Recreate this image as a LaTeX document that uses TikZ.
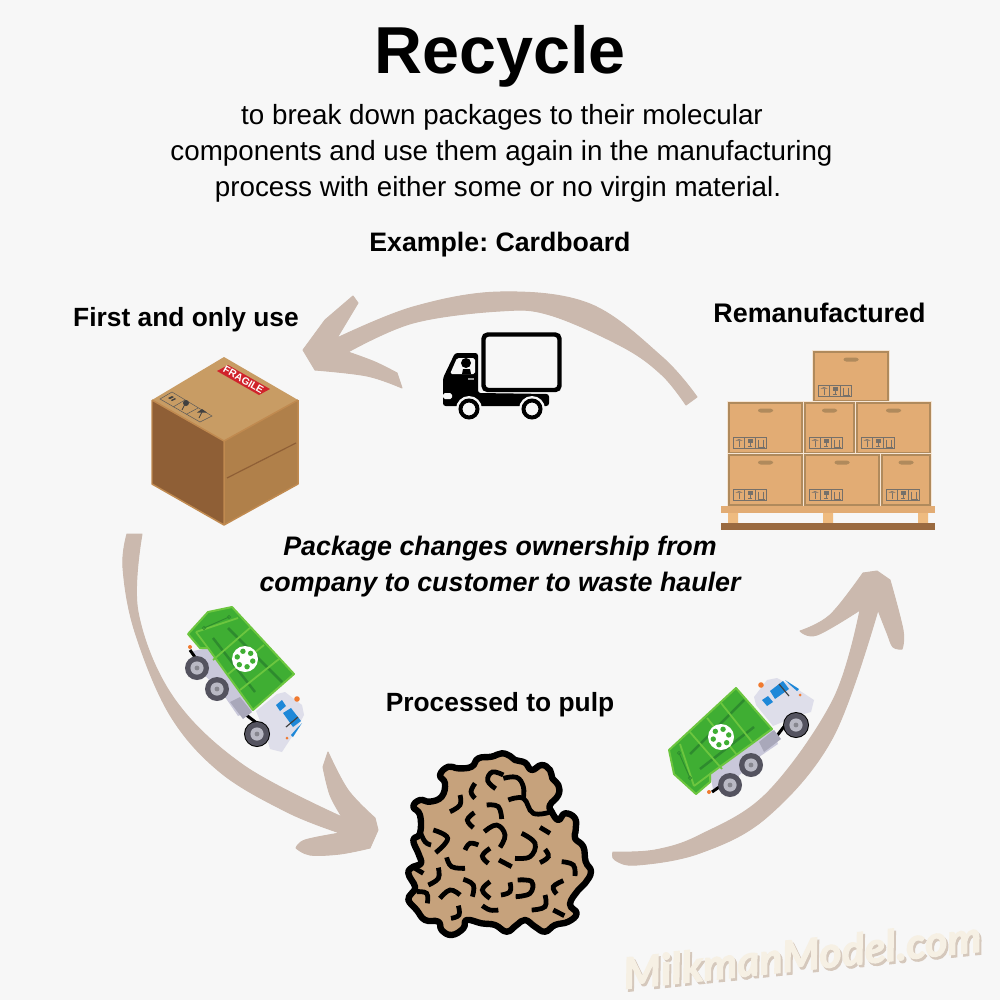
\documentclass[tikz,border=0pt]{standalone}
\usepackage{fontspec}
\setmainfont{Liberation Sans}
\newfontfamily\wmfont[BoldItalicFeatures={FakeBold=2.5}]{Lato}
\usetikzlibrary{calc}
\frenchspacing
\definecolor{bgc}{HTML}{F7F7F7}
\definecolor{arrowc}{HTML}{CBB9AE}
\definecolor{cbtop}{HTML}{C89C64}
\definecolor{cbleft}{HTML}{8F5F36}
\definecolor{cbright}{HTML}{B0804A}
\definecolor{cbedge}{HTML}{C08A50}
\definecolor{crate}{HTML}{E2AC74}
\definecolor{crateedge}{HTML}{B08A5C}
\definecolor{glyph}{HTML}{75706A}
\definecolor{legc}{HTML}{EFBB7F}
\definecolor{palbase}{HTML}{9A6A40}
\definecolor{pulp}{HTML}{C6A27C}
\definecolor{bing}{HTML}{3FAE33}
\definecolor{binl}{HTML}{6CC63F}
\definecolor{bind}{HTML}{2E8B2E}
\definecolor{cabc}{HTML}{DEDEEA}
\definecolor{chas}{HTML}{C9C8DA}
\definecolor{tankc}{HTML}{A9A8BA}
\definecolor{tyre}{HTML}{54535F}
\definecolor{hubc}{HTML}{B9B9C4}
\definecolor{bluew}{HTML}{1E88D8}
\definecolor{lamp}{HTML}{F07A30}
\definecolor{wmc}{HTML}{F6F0E4}
\definecolor{wms}{HTML}{D5C8BC}
\definecolor{fragred}{HTML}{D0232B}
\tikzset{
  px/.style={line width=#1*0.5669pt},
  headline/.style={font=\bfseries\fontsize{37.8pt}{40pt}\selectfont,text=black,inner sep=0pt},
  bodyline/.style={font=\fontsize{15.8pt}{20.4pt}\selectfont,text=black,inner sep=0pt,align=center},
  labelline/.style={font=\bfseries\fontsize{15pt}{20.4pt}\selectfont,text=black,inner sep=0pt,align=center},
  italline/.style={font=\bfseries\itshape\fontsize{15.25pt}{20.4pt}\selectfont,text=black,inner sep=0pt,align=center},
  arrowshape/.style={fill=arrowc,draw=arrowc,px=1,line join=round},
  pulpdash/.style={draw=black,px=4.8,line cap=butt},
  wmark/.style={font=\wmfont\bfseries\itshape\fontsize{24.5pt}{30pt}\selectfont,rotate=6,inner sep=0pt},
}
\newcommand{\cellglyphs}[2]{%
  \begin{scope}[shift={(#1,#2)}]
    \draw[draw=glyph,px=.7] (0,0) rectangle (33,10.5) (11,0)--(11,10.5) (22,0)--(22,10.5);
    \fill[glyph] (2,3) -- (5.5,1.6) -- (9,3) -- cycle;
    \draw[glyph,px=.7] (5.5,3) -- (5.5,9);
    \fill[glyph] (14,1.5) rectangle (19,5.5);
    \draw[glyph,px=.8] (16.5,5.5) -- (16.5,9) (14.5,9.3) -- (18.5,9.3);
    \draw[glyph,px=.8] (25,2) -- (25,9) (29.5,2) -- (29.5,9) (24,9.5) -- (31,9.5);
  \end{scope}}
\newcommand{\crate}[4]{%
  \fill[white!70!crate] (#1-.6,#2-.6) rectangle (#3+.6,#4+.6);
  \draw[fill=crate,draw=crateedge,px=2.6] (#1+1,#2+1) rectangle (#3-1,#4-1);
  \fill[crateedge,rounded corners=1.5] ({(#1+#3)/2-7.5},#2+6.5) rectangle ({(#1+#3)/2+7.5},#2+10.5);
  \cellglyphs{#1+5.5}{#4-16.5}}
\newcommand{\twheel}[3]{%
  \fill[tyre] (#1,#2) circle[radius=#3];
  \fill[hubc] (#1,#2) circle[radius=#3*.55];
  \fill[tyre!70!white] (#1,#2) circle[radius=#3*.2];}
\newcommand{\greentruck}{%
  % chassis
  \fill[chas] (193,651) -- (208,648) -- (253,710) -- (238,716) -- (225,697) -- (200,670) -- cycle;
  \draw[black,px=3] (190,650) -- (197,660) (245,714) -- (258,724);
  \fill[lamp] (190,647) circle[radius=2];
  \fill[tankc] (230,702) -- (240,697) -- (252,712) -- (243,719) -- cycle;
  \twheel{197}{668}{12}
  \twheel{217}{689}{12}
  % bin
  \draw[fill=bing,draw=binl,px=2,line join=round] (188,634) -- (208,612) -- (232,607) -- (294,674) -- (253,710) -- (208,648) -- (200,648) -- cycle;
  \draw[bind,px=2.5] (213,638) -- (255,692) (228,628) -- (282,682);
  \draw[binl,px=1.8] (196,632) -- (238,618) (196,632) -- (208,648) (213,660) -- (251,627) (227,675) -- (264,645) (240,690) -- (279,659);
  \draw[bind,px=.9] (204,628) -- (229,617);
  \draw[bind,px=.7] (204,628) circle[radius=1.6] (229,617) circle[radius=1.6];
  \fill[white] (245,659) circle[radius=13];
  \foreach \a in {0,60,...,300}{\fill[bing] ($(245,659)+(\a+15:8)$) circle[radius=2.7];}
  % cab
  \fill[cabc] (256,711) -- (277,694) -- (285,692) -- (302,705) -- (304,715) -- (295,732) -- (282,752) -- (270,749) -- (266,735) -- cycle;
  \fill[black] (257,734) circle[radius=13];
  \twheel{257}{734}{12}
  \fill[bluew] (283,713) -- (291,708) -- (301,721) -- (293,727) -- cycle;
  \fill[bluew] (276,705) -- (282,700) -- (286,706) -- (280,711) -- cycle;
  \fill[bluew] (298,727) -- (302,723) -- (293,737) -- (291,735) -- cycle;
  \draw[black!75,px=1.2] (286,727) -- (298,717);
  \fill[lamp] (297,699) circle[radius=2.8];
  \fill[lamp] (287,738) circle[radius=1.5];
}
\newcommand{\pd}[1]{\draw[pulpdash] plot[smooth,tension=.7] coordinates {#1};}
\begin{document}
\begin{tikzpicture}[x=0.02cm,y=-0.02cm]
\fill[bgc] (0,0) rectangle (1000,1000);
\useasboundingbox (0,0) rectangle (1000,1000);

% texts
\node[headline] (title) at (500,56) {Recycle};
\node[bodyline] (sub1) at (502,117) {to break down packages to their molecular};
\node[bodyline] (sub2) at (501.5,153) {components and use them again in the manufacturing};
\node[bodyline] (sub3) at (498,189) {process with either some or no virgin material.};
\node[labelline,font=\bfseries\fontsize{15.2pt}{20pt}\selectfont] (example) at (500,245) {Example: Cardboard};
\node[labelline] (firstuse) at (186,320) {First and only use};
\node[labelline,font=\bfseries\fontsize{15.3pt}{20pt}\selectfont] (remanu) at (819.5,313) {Remanufactured};
\node[labelline] (pulplabel) at (500,705) {Processed to pulp};
\node[italline] (own1) at (500,549) {Package changes ownership from};
\node[italline] (own2) at (500,585) {company to customer to waste hauler};

% named arrow ends
\coordinate (topstart) at (697,397);
\coordinate (toptip) at (303,350);
\coordinate (leftstart) at (127,534);
\coordinate (lefttip) at (378,830);
\coordinate (rightstart) at (613,852);
\coordinate (righttip) at (877,571);

% top arrow
\path[arrowshape] plot[smooth,tension=.6] coordinates {(topstart) (662,357) (590,304) (500,292) (413,307) (337,338)}
  -- (358,303) -- (353,296) -- (325,320)
  -- (toptip) -- (315,370)
  -- plot[smooth,tension=.6] coordinates {(315,370) (367,376) (402,388)}
  -- (397,373)
  -- plot[smooth,tension=.6] coordinates {(397,373) (375,362) (348,352)}
  -- plot[smooth,tension=.6] coordinates {(348,352) (413,323) (500,311) (550,315) (623,347) (662,375) (686,405)} -- cycle;

% left arrow
\path[arrowshape] plot[smooth,tension=.6] coordinates {(leftstart) (123,568) (135,632) (170,715) (220,772) (287,812) (340,833)}
  -- plot[smooth,tension=.6] coordinates {(340,833) (305,840) (296,848)}
  -- plot[smooth,tension=.6] coordinates {(296,848) (310,855) (340,854) (370,848)}
  -- (lefttip) -- (375,818)
  -- plot[smooth,tension=.6] coordinates {(375,818) (348,790) (328,752)}
  -- (323,767)
  -- plot[smooth,tension=.6] coordinates {(323,767) (330,795) (342,817)}
  -- plot[smooth,tension=.6] coordinates {(342,817) (243,765) (173,697) (138,612) (142,534)} -- cycle;

% right arrow
\path[arrowshape] plot[smooth,tension=.6] coordinates {(rightstart) (615,860) (637,865) (700,853) (767,817) (833,737) (878,610)}
  -- plot[smooth,tension=.6] coordinates {(878,610) (887,633) (893,647) (902,649)}
  -- plot[smooth,tension=.6] coordinates {(902,649) (903,630) (890,580)}
  -- (righttip) -- (863,573)
  -- plot[smooth,tension=.6] coordinates {(863,573) (830,615) (800,631)}
  -- plot[smooth,tension=.6] coordinates {(800,631) (817,635) (860,610)}
  -- plot[smooth,tension=.6] coordinates {(860,610) (833,700) (767,793) (700,835) (655,850) (613,852)} -- cycle;

% cardboard box
\fill[cbtop] (224,357) -- (298,400) -- (224,441) -- (152,400) -- cycle;
\fill[cbleft] (152,400) -- (224,441) -- (224,525) -- (152,484) -- cycle;
\fill[cbright] (224,441) -- (298,400) -- (298,484) -- (224,525) -- cycle;
\draw[cbedge,px=1.5,line join=round] (152,400) -- (224,441) -- (298,400) (224,441) -- (224,525) (152,400) -- (152,484) -- (224,525) -- (298,484) -- (298,400);
\draw[cbleft,px=1.2] (227,478) -- (296,443);
\fill[fragred] (217,371) -- (228,365) -- (270,389) -- (259,395) -- cycle;
\node[text=white,font=\bfseries\fontsize{5.8pt}{6pt}\selectfont,rotate=-30,inner sep=0pt] (fragile) at (243.5,380) {FRAGILE};
\draw[black!65,px=.5] (160,399) -- (172,392) -- (212,416) -- (200,422) -- cycle (173,407) -- (185,400) (186,414.5) -- (198,408);
\fill[black!75] (168,398) -- (172,396) -- (174,397) -- (170,399) -- cycle (171,400) -- (175,398) -- (176,399) -- (172,401) -- cycle;
\fill[black!75] (186,403) circle[radius=3];
\draw[black!75,px=.8] (185,404) -- (182,410);
\fill[black!75] (197,412.5) -- (202,409) -- (207,412.5) -- cycle;
\draw[black!75,px=.8] (202,412) -- (199,418);

% crates
\crate{813}{351}{889}{402}
\crate{728}{402}{803}{454}
\crate{804}{402}{855}{454}
\crate{856}{402}{931}{454}
\crate{728}{454}{803}{506}
\crate{804}{454}{880}{506}
\crate{881}{454}{931}{506}
\fill[crate] (721,506) rectangle (935,513);
\fill[legc] (728,513) rectangle (738,523) (823,513) rectangle (833,523) (918,513) rectangle (928,523);
\fill[palbase] (721,523) rectangle (935,530);

% black delivery truck
\draw[black,px=4.5,fill=bgc,rounded corners=2.5] (483.5,334.5) rectangle (559.5,390);
\fill[black,rounded corners=1.5] (455,353) -- (478,353) -- (478,393) -- (549,394) -- (549,406) -- (443,406) -- (443,378) -- cycle;
\fill[bgc,rounded corners=1] (450,374) -- (457,358) -- (475,358) -- (475,374) -- cycle;
\fill[black] (466,363) circle[radius=5];
\fill[black] (462,374) -- (463,369) -- (470,369) -- (471,374) -- cycle;
\fill[black!40] (468,378) rectangle (474,380);
\fill[bgc,rounded corners=1] (443,393) rectangle (452,399);
\fill[bgc] (469,409) circle[radius=13] (532,409) circle[radius=13];
\draw[black,px=4,fill=bgc] (469,409) circle[radius=8.5] (532,409) circle[radius=8.5];

% green trucks
\begin{scope}
  \greentruck
\end{scope}
\begin{scope}[shift={(730,785)},x={(0cm,0.02cm)},y={(0.02cm,0cm)}]
  \begin{scope}[shift={(-197,-668)}]
    \greentruck
  \end{scope}
\end{scope}

% pulp
\begin{scope}[shift={(395,750)},scale=1/3]
  \draw[fill=pulp,draw=black,px=6.4,line join=round] plot[smooth cycle,tension=.75] coordinates {
    (320,10) (345,18) (360,30) (390,38) (410,60) (440,45) (465,60) (472,85) (490,105) (490,135) (465,165) (470,185)
    (490,210) (510,190) (540,205) (542,240) (540,265) (565,290) (572,335) (588,365) (570,400) (550,420) (525,462) (545,490)
    (520,515) (480,525) (450,545) (420,530) (390,510) (365,525) (335,545) (300,525) (260,520) (215,510) (205,535) (170,555)
    (140,540) (130,515) (90,510) (65,480) (40,450) (50,430) (60,410) (40,370) (55,350) (78,340) (70,310) (55,270) (75,250)
    (75,195) (55,170) (75,150) (105,155) (140,140) (150,100) (135,75) (160,50) (190,55) (230,50) (250,25) (290,20)};
  \pd{(302,116) (278,92) (292,66) (325,75)}
  \pd{(325,85) (365,82) (385,110) (385,145)}
  \pd{(340,150) (385,145) (415,190) (470,185)}
  \pd{(240,100) (228,125) (240,145)}
  \pd{(195,135) (195,165) (165,185)}
  \pd{(275,165) (310,170) (320,207)}
  \pd{(238,188) (217,210) (235,233)}
  \pd{(268,245) (305,225) (330,255) (315,292)}
  \pd{(115,240) (158,265) (122,308)}
  \pd{(75,245) (90,275) (108,285)}
  \pd{(435,232) (465,250)}
  \pd{(380,250) (420,280) (405,320) (360,325)}
  \pd{(210,300) (225,280) (250,285)}
  \pd{(285,295) (262,318) (280,340)}
  \pd{(312,330) (350,350)}
  \pd{(450,298) (460,320) (435,338)}
  \pd{(155,322) (170,350) (210,355)}
  \pd{(500,335) (535,345) (540,378)}
  \pd{(130,353) (130,385) (100,405)}
  \pd{(205,388) (235,405) (232,440)}
  \pd{(285,395) (262,420) (285,445)}
  \pd{(345,397) (345,425) (318,435)}
  \pd{(368,390) (410,395) (405,430) (362,440)}
  \pd{(505,392) (475,410) (485,432)}
  \pd{(135,445) (165,420) (195,435)}
  \pd{(450,435) (450,470) (410,480)}
  \pd{(262,467) (285,480) (310,480)}
  \pd{(190,467) (192,495) (168,505)}
  \pd{(475,480) (508,497)}
  \pd{(65,425) (95,430) (97,460)}
  \pd{(60,355) (85,370)}
\end{scope}

% watermark
\node[wmark,text=wms] (wmshadow) at (804,957) {MilkmanModel.com};
\node[wmark,text=wmc] (wmtext) at (802,954.5) {MilkmanModel.com};
\end{tikzpicture}
\end{document}
